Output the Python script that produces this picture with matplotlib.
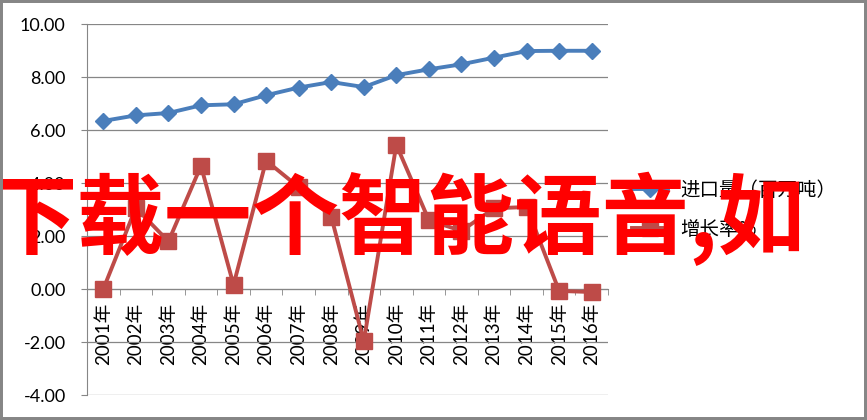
import numpy as np
import matplotlib
matplotlib.use("Agg")
import matplotlib.pyplot as plt
from matplotlib.patches import Rectangle

plt.rcParams['font.family'] = ['Lato', 'Noto Sans CJK SC', 'DejaVu Sans']

years = ["2001年", "2002年", "2003年", "2004年", "2005年", "2006年", "2007年", "2008年",
         "2009年", "2010年", "2011年", "2012年", "2013年", "2014年", "2015年", "2016年"]
imports = [6.35, 6.56, 6.65, 6.94, 6.98, 7.32, 7.61, 7.82, 7.63, 8.08, 8.30, 8.49, 8.74, 8.99, 9.00, 9.00]
growth = [0.00, 3.07, 1.80, 4.65, 0.16, 4.85, 3.85, 2.74, -1.97, 5.45, 2.60, 2.20, 3.05, 3.10, -0.07, -0.11]
series_names = ["进口量（百万吨）", "增长率%"]
yticks = [-4, -2, 0, 2, 4, 6, 8, 10]
ytick_labels = ["-4.00", "-2.00", "0.00", "2.00", "4.00", "6.00", "8.00", "10.00"]
overlay = "下载一个智能语音,如"

GRAY = '#868686'
BLUE = '#4A7EBB'
RED = '#BE4B48'

fig = plt.figure(figsize=(8.67, 4.2), dpi=100)
ax = fig.add_axes([87 / 867, 1 - 395 / 420, (608 - 87) / 867, (395 - 24.3) / 420])

x = np.arange(len(years))
ax.plot(x, imports, color=BLUE, lw=2.8, marker='D', ms=8.5, label=series_names[0], zorder=3)
ax.plot(x, growth, color=RED, lw=2.8, marker='s', ms=11, label=series_names[1], zorder=4)

ax.set_xlim(-0.5, len(years) - 0.5)
ax.set_ylim(-4, 10)
ax.set_yticks(yticks, ytick_labels)
ax.yaxis.grid(True, color=GRAY, lw=0.9)
ax.set_axisbelow(True)

for s in ['top', 'right']:
    ax.spines[s].set_visible(False)
ax.spines['left'].set_color(GRAY)
ax.spines['bottom'].set_color(GRAY)
ax.spines['bottom'].set_position(('data', 0))

ax.set_xticks(x, years, rotation=90)
ax.set_xticks(np.arange(-0.5, len(years), 1), minor=True)
ax.tick_params(axis='x', which='major', length=0, pad=10, labelsize=13.5)
ax.tick_params(axis='x', which='minor', length=4.3, color=GRAY, direction='out')
ax.tick_params(axis='y', length=4.3, color=GRAY, pad=11, labelsize=13)

leg = ax.legend(loc='center left', bbox_to_anchor=(632 / 867, 1 - 210 / 420),
                bbox_transform=fig.transFigure, frameon=False,
                handlelength=1.85, handletextpad=0.65, labelspacing=0.95,
                borderaxespad=0, borderpad=0, numpoints=1,
                prop={'family': ['Noto Sans CJK SC', 'DejaVu Sans'], 'size': 14})

fig.text(-11 / 867, 1 - 219 / 420, overlay, color='#FF0000', fontsize=63, fontweight='bold',
         family=['Noto Sans CJK SC', 'DejaVu Sans'], ha='left', va='center', zorder=10)

fig.patches.append(Rectangle((0, 0), 1, 1, transform=fig.transFigure, fill=False,
                             edgecolor=GRAY, lw=4.3, zorder=20))

fig.savefig('out.png', dpi=100)
